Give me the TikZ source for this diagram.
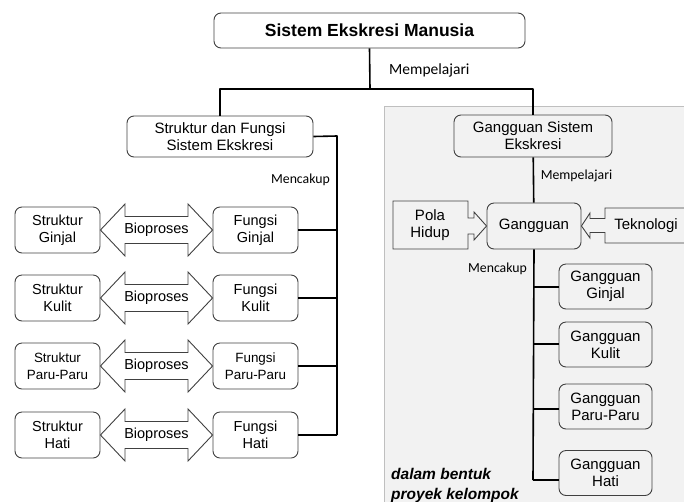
\documentclass[tikz,border=0pt]{standalone}
\usepackage{fontspec}
\setmainfont{Liberation Sans}
\newfontfamily\calib{Carlito}
\tikzset{
	kotak/.style={draw=black!75,line width=.9pt,rounded corners=7pt,align=center,inner sep=0pt,font=\fontsize{14.5}{17}\selectfont},
	panah/.style={draw=black!75,line width=.9pt,line join=miter},
	garis/.style={line width=1.6pt},
	lbl/.style={font=\calib\fontsize{13.8}{16}\selectfont,inner sep=0pt}
}
\begin{document}
\begin{tikzpicture}[x=1pt,y=-1pt,line join=round]
	\useasboundingbox (0,0) rectangle (684,501);
	\clip (0,0) rectangle (684,501);
	\fill[gray!10] (384,106) rectangle (700,510);
	\draw[black!25,line width=.8pt] (384,510)--(384,106)--(700,106);
	\node[kotak,minimum width=311,minimum height=35,font=\bfseries\fontsize{17.5}{20}\selectfont] (judul) at (369.5,30.5) {Sistem Ekskresi Manusia};
	\node[kotak,minimum width=186,minimum height=41,font=\fontsize{15}{17}\selectfont] (sf) at (220,136.5) {Struktur dan Fungsi\\Sistem Ekskresi};
	\node[kotak,minimum width=158,minimum height=42,font=\fontsize{15}{17}\selectfont] (gse) at (533,136) {Gangguan Sistem\\Ekskresi};
	\node[kotak,minimum width=94,minimum height=46,font=\fontsize{15}{17}\selectfont] (gg) at (534,226) {Gangguan};
	\coordinate (bagi) at (370,89);
	\coordinate (rel) at (337,136);
	\coordinate (rel4) at (337,435);
	\coordinate (cab) at (533,480);
	\draw[garis] (judul.south)--(bagi);
	\draw[garis] (sf.north)|-(bagi)-|(gse.north);
	\draw[garis] (sf.east)--(rel)--(rel4);
	\draw[garis] (gse)--(gg);
	\draw[garis] (gg.south)--(cab);
	\node[lbl,anchor=west,font=\calib\fontsize{15.5}{18}\selectfont] (lb1) at (389,70) {Mempelajari};
	\node[lbl] (lb2) at (300.5,180) {Mencakup};
	\node[lbl] (lb3) at (576.5,176) {Mempelajari};
	\node[lbl] (lb4) at (497.5,269) {Mencakup};
	\foreach \y/\nama/\uk [count=\i] in {230/Ginjal/14.5,298/Kulit/14.5,366/Paru-Paru/13.4,435/Hati/14.5}{
		\node[kotak,minimum width=85,minimum height=46,font=\fontsize{\uk}{17}\selectfont] (s\i) at (57.5,\y) {Struktur\\\nama};
		\node[kotak,minimum width=85,minimum height=46,font=\fontsize{\uk}{17}\selectfont] (f\i) at (255.5,\y) {Fungsi\\\nama};
		\draw[panah] (s\i.east)--(125,{\y-26})--(125,{\y-13.5})--(188,{\y-13.5})--(188,{\y-26})--(f\i.west)
			--(188,{\y+26})--(188,{\y+13.5})--(125,{\y+13.5})--(125,{\y+26})--cycle;
		\node[font=\fontsize{14.5}{17}\selectfont] (bio\i) at (156.5,\y) {Bioproses};
		\draw[garis] (f\i.east)--(f\i.east-|rel);
	}
	\foreach \y/\yc/\nama [count=\i] in {286.5/287/Ginjal,344.5/344/Kulit,406.5/409/Paru-Paru,473/480/Hati}{
		\node[kotak,minimum width=93,minimum height=45,font=\fontsize{15}{17}\selectfont] (g\i) at (605.5,\y) {Gangguan\\\nama};
		\coordinate (c\i) at (533,\yc);
		\draw[garis] (c\i)--(c\i-|g\i.west);
	}
	\node[align=center,font=\fontsize{15}{17}\selectfont] (pola) at (430,225) {Pola\\Hidup};
	\draw[panah] (393,201)--(468,201)--(468,218)--(474,218)--(474,212)--(gg.west)--(474,240)--(474,234)--(468,234)--(468,249)--(393,249)--cycle;
	\node[font=\fontsize{15}{17}\selectfont] (tekno) at (646,226) {Teknologi};
	\draw[panah] (gg.east)--(590,213)--(590,218.5)--(605,218.5)--(605,208)--(700,208)--(700,243)--(605,243)--(605,232.5)--(590,232.5)--(590,238)--cycle;
	\node[anchor=west,align=left,inner sep=0pt,font=\bfseries\itshape\fontsize{15.5}{20}\selectfont] (ket) at (391,485) {dalam bentuk\\proyek kelompok};
\end{tikzpicture}
\end{document}
